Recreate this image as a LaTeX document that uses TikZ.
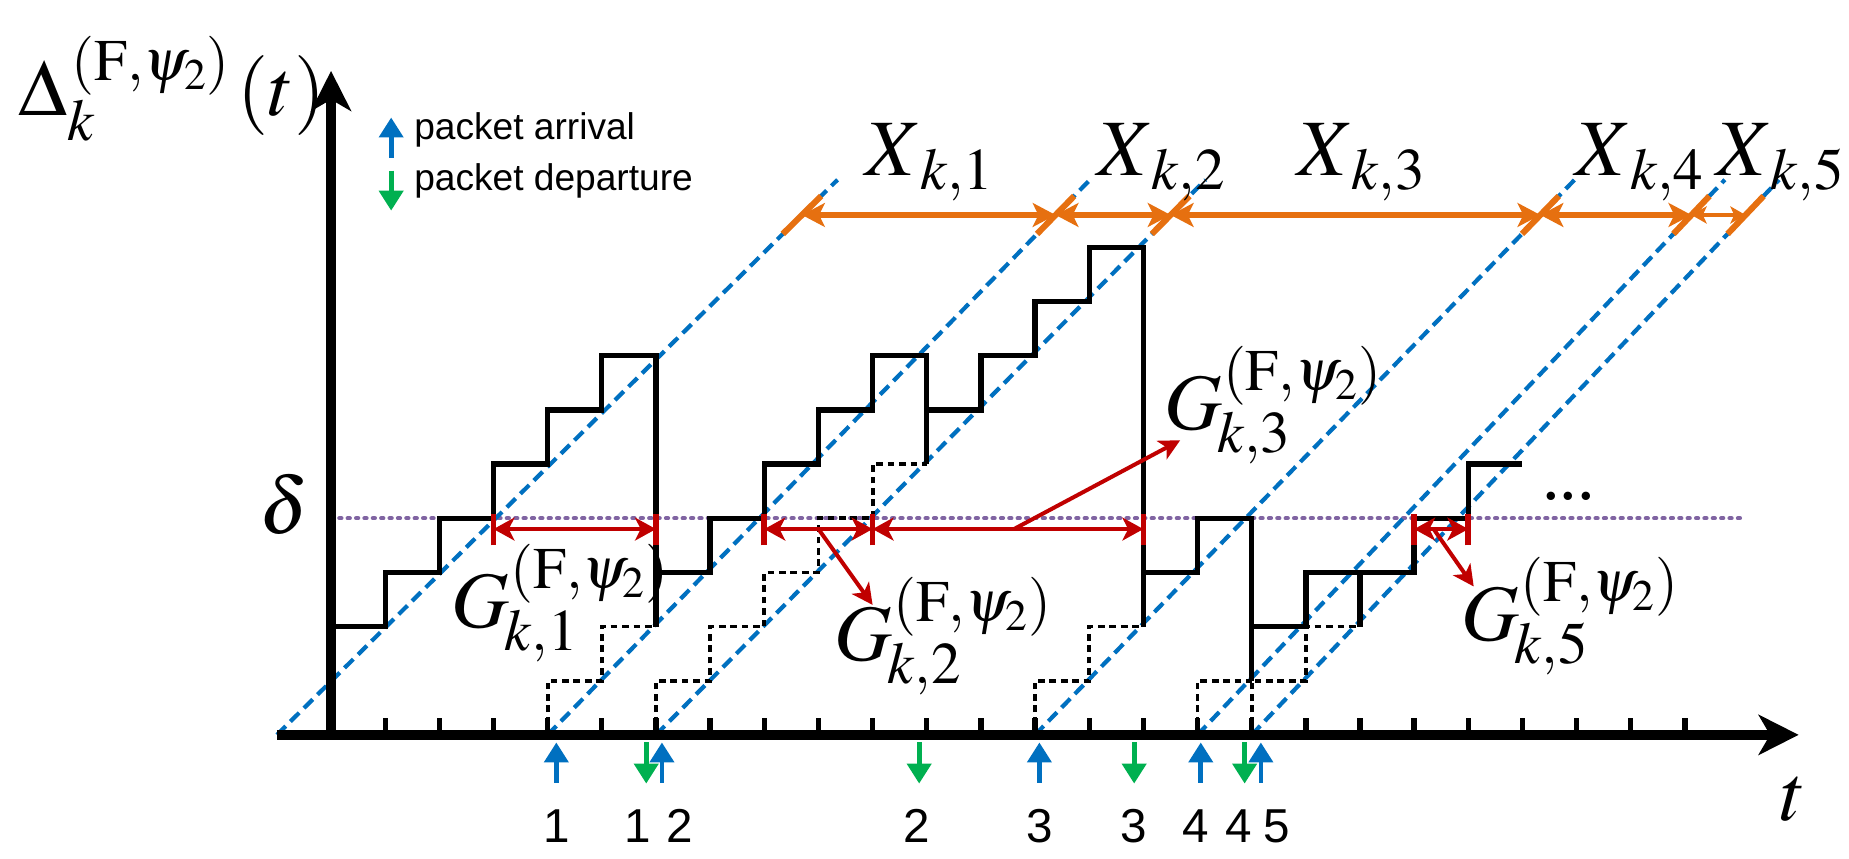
\documentclass[tikz,border=0pt]{standalone}
\usepackage[no-math]{fontspec}
\usepackage{mathptmx}
\newfontfamily\arialf{Liberation Sans}
\newfontfamily\timesf{Liberation Serif}
\usetikzlibrary{arrows.meta}
\definecolor{lblue}{RGB}{0,112,192}
\definecolor{lgreen}{RGB}{0,176,80}
\definecolor{dred}{RGB}{192,0,0}
\definecolor{orng}{RGB}{230,112,16}
\definecolor{purp}{RGB}{128,100,162}
\newcommand{\scr}[1]{{\fontsize{31}{36}\selectfont$#1$}}
\newcommand{\Glab}[1]{$G$\kern-2.5pt\rlap{\raisebox{-12pt}{\scr{k{,}#1}}}\kern3pt\raisebox{20.5pt}{\scr{(\mathrm{F}{,}\psi_2)}}}
\newcommand{\Xlab}[1]{$X$\kern-1pt\raisebox{-7pt}{\scr{k{,}#1}}}
\begin{document}
\begin{tikzpicture}[x=1cm,y=1cm,
  axis/.style={line width=5.2pt,-{Stealth[length=21pt,width=21pt,inset=6pt]}},
  tickm/.style={line width=2.8pt},
  stair/.style={line width=2.8pt,line join=miter},
  dstair/.style={line width=2pt,dash pattern=on 3.5pt off 2.5pt},
  tline/.style={lblue,line width=2.2pt,dash pattern=on 6.5pt off 3.5pt},
  dline/.style={purp,line width=2.3pt,line cap=round,dash pattern=on 1pt off 3.4pt},
  gbar/.style={dred,line width=3pt},
  garr/.style={dred,line width=2.2pt,{Stealth[length=11pt,width=12pt,inset=3pt]}-{Stealth[length=11pt,width=12pt,inset=3pt]}},
  ptr/.style={dred,line width=2.1pt,-{Stealth[length=11pt,width=11pt,inset=3pt]}},
  xbar/.style={orng,line width=3.2pt},
  xarr/.style={orng,line width=2.8pt,{Stealth[length=12pt,width=12.5pt,inset=3pt]}-{Stealth[length=12pt,width=12.5pt,inset=3pt]}},
  xarrs/.style={orng,line width=2.3pt,{Stealth[length=8pt,width=9pt,inset=2pt]}-{Stealth[length=8pt,width=9pt,inset=2pt]}},
  arrup/.style={lblue,line width=2.5pt,-{Triangle[length=10.5pt,width=12.5pt]}},
  arrdn/.style={lgreen,line width=2.5pt,-{Triangle[length=10.5pt,width=12.5pt]}},
  big/.style={font=\fontsize{42}{50}\selectfont,inner sep=0pt},
  num/.style={font=\arialf\fontsize{25}{30}\selectfont,inner sep=0pt,anchor=base},
  leg/.style={font=\arialf\fontsize{19.5}{24}\selectfont,inner sep=0pt,anchor=base west}
]
\useasboundingbox (-6.113,-2.29) rectangle (28.03,13.57);

% threshold
\draw[dline] (0,4) -- (26.06,4);

% age lines with orange marks
\foreach \a/\k/\n in {-1/1.01/0, 4/0.977/1, 6/0.99/2, 13/0.972/3, 16/0.95/4, 17/0.95/5}{
  \draw[tline] (\a,0) -- ({\a+10.25*\k},10.25);
  \draw[xbar] ({\a+9.25*\k},9.25) -- ({\a+9.95*\k},9.95);
  \coordinate (x\n) at ({\a+9.6*\k},9.6);
}

% dotted staircases
\draw[dstair] (4,0) -- (4,1) -- (5,1) -- (5,2) -- (6,2);
\draw[dstair] (6,0) -- (6,1) -- (7,1) -- (7,2) -- (8,2) -- (8,3) -- (9,3) -- (9,4) -- (10,4) -- (10,5) -- (11,5);
\draw[dstair] (13,0) -- (13,1) -- (14,1) -- (14,2) -- (15,2);
\draw[dstair] (16,0) -- (16,1) -- (17,1);
\draw[dstair] (17,0) -- (17,1) -- (18,1) -- (18,2) -- (19,2);

% solid staircase
\draw[stair] (0,2) -- (1,2) -- (1,3) -- (2,3) -- (2,4) -- (3,4) -- (3,5) -- (4,5) -- (4,6) -- (5,6) -- (5,7) -- (6,7) -- (6,2);
\draw[stair] (6,3) -- (7,3) -- (7,4) -- (8,4) -- (8,5) -- (9,5) -- (9,6) -- (10,6) -- (10,7) -- (11,7) -- (11,5);
\draw[stair] (11,6) -- (12,6) -- (12,7) -- (13,7) -- (13,8) -- (14,8) -- (14,9) -- (15,9) -- (15,2);
\draw[stair] (15,3) -- (16,3) -- (16,4) -- (17,4) -- (17,1);
\draw[stair] (17,2) -- (18,2) -- (18,3) -- (19,3) -- (19,2);
\draw[stair] (19,3) -- (20,3) -- (20,4) -- (21,4) -- (21,5) -- (22,5);

% X arrows
\draw[xarr] (x0) -- (x1);
\draw[xarr] (x1) -- (x2);
\draw[xarr] (x2) -- (x3);
\draw[xarr] (x3) -- (x4);
\draw[xarrs] (x4) -- (x5);

% G intervals
\foreach \t in {3,6,8,10,15,20,21} \draw[gbar] (\t,3.5) -- (\t,4.08);
\foreach \t/\n in {3/a,6/b,8/c,9/d,10/e,12.61/f,15/g,20/h,20.36/i,21/j} \coordinate (g\n) at (\t,3.8);
\draw[garr] (ga) -- (gb);
\draw[garr] (gc) -- (ge);
\draw[garr] (ge) -- (gg);
\draw[garr] (gh) -- (gj);
\coordinate (p2) at (10.0,2.4);
\coordinate (p3) at (15.68,5.44);
\coordinate (p5) at (21.1,2.74);
\draw[ptr] (gd) -- (p2);
\draw[ptr] (gf) -- (p3);
\draw[ptr] (gi) -- (p5);

% axes
\foreach \t in {1,...,25} \draw[tickm] (\t,0) -- (\t,0.31);
\coordinate (xa) at (-1,0); \coordinate (xb) at (27.1,0);
\coordinate (ya) at (0,-0.05); \coordinate (yb) at (0,12.26);
\draw[axis] (xa) -- (xb);
\draw[axis] (ya) -- (yb);

% arrivals / departures
\foreach \x/\n in {4.16/1, 6.11/2, 13.08/3, 16.06/4, 17.17/5}{
  \coordinate (aa\n) at (\x,-0.88); \coordinate (ab\n) at (\x,-0.14);
  \draw[arrup] (aa\n) -- (ab\n);}
\foreach \x/\n in {5.82/1, 10.86/2, 14.83/3, 16.87/4}{
  \coordinate (da\n) at (\x,-0.14); \coordinate (db\n) at (\x,-0.9);
  \draw[arrdn] (da\n) -- (db\n);}
\foreach \x/\s [count=\i] in {4.16/1, 5.67/1, 6.44/2, 10.82/2, 13.08/3, 14.83/3, 15.97/4, 16.76/4, 17.47/5}
  \node[num] (n\i) at (\x,-1.99) {\s};

% legend
\coordinate (la) at (1.11,10.66); \coordinate (lb) at (1.11,11.40);
\draw[arrup] (la) -- (lb);
\coordinate (lc) at (1.11,10.42); \coordinate (ld) at (1.11,9.68);
\draw[arrdn] (lc) -- (ld);
\node[leg] (l1) at (1.53,11.0) {packet arrival};
\node[leg] (l2) at (1.53,10.05) {packet departure};

% labels
\node[big,anchor=base west] (ylab) at (-5.77,11.43) {$\Delta$\rlap{\raisebox{-13pt}{\scr{k}}}\kern2pt\raisebox{18.6pt}{\scr{(\mathrm{F}{,}\psi_2)}}\kern4pt$(t)$};
\node[big,anchor=base east] (dlab) at (-0.41,3.71) {$\delta$};
\node[big,anchor=base] (tlab) at (27.0,-1.59) {$t$};
\node[big,anchor=base west] (X1) at (9.87,10.32) {\Xlab{1}};
\node[big,anchor=base west] (X2) at (14.14,10.32) {\Xlab{2}};
\node[big,anchor=base west] (X3) at (17.83,10.32) {\Xlab{3}};
\node[big,anchor=base west] (X4) at (22.98,10.32) {\Xlab{4}};
\node[big,anchor=base west] (X5) at (25.57,10.32) {\Xlab{5}};
\node[big,anchor=base west] (G1) at (2.22,1.98) {\Glab{1}};
\node[big,anchor=base west] (G2) at (9.29,1.37) {\Glab{2}};
\node[big,anchor=base west] (G3) at (15.38,5.63) {\Glab{3}};
\node[big,anchor=base west] (G5) at (20.87,1.74) {\Glab{5}};
\node[font=\timesf\fontsize{37}{40}\selectfont,inner sep=0pt,anchor=base] (dots) at (22.85,4.35) {...};
\end{tikzpicture}
\end{document}
